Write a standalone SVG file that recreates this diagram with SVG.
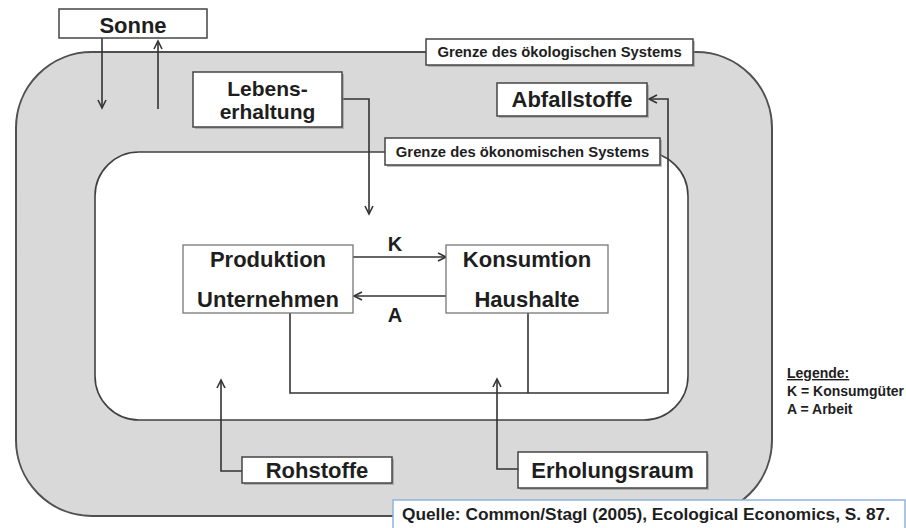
<svg xmlns="http://www.w3.org/2000/svg" width="906" height="528" viewBox="0 0 906 528">
<defs>
<marker id="arr" markerUnits="userSpaceOnUse" markerWidth="12" markerHeight="12" refX="8" refY="4" orient="auto" overflow="visible">
<path d="M0,0 L8,4 L0,8" fill="none" stroke="#333" stroke-width="1.6"/>
</marker>
</defs>
<style>
text{font-family:"Liberation Sans",Arial,sans-serif;font-weight:bold;fill:#1e1e1e}
.lbl{font-size:22px;text-anchor:middle}
.lbl2{font-size:21px;text-anchor:middle}
.sys{font-size:14.8px;text-anchor:middle}
.box{fill:#fff;stroke:#444;stroke-width:1.5}
.pbox{fill:#fff;stroke:#777;stroke-width:1.3}
.shd{fill:#8a8a8a;opacity:0.55}
.con{fill:none;stroke:#333;stroke-width:1.6}
.arw{fill:none;stroke:#333;stroke-width:1.6;marker-end:url(#arr)}
.leg{font-size:14px}
</style>
<rect width="906" height="528" fill="#fff"/>
<g id="oekologisches-system">
<rect x="16" y="52" width="756" height="464" rx="76" ry="76" fill="#d9d9d9" stroke="#505050" stroke-width="2"/>
</g>
<g id="oekonomisches-system">
<rect x="95" y="152" width="593" height="268" rx="44" ry="44" fill="#fff" stroke="#404040" stroke-width="1.6"/>
</g>
<g id="connectors">
<path class="arw" d="M102,38 L102,108"/>
<path class="arw" d="M158,109 L158,41"/>
<path class="arw" d="M342,99 L369,99 L369,214"/>
<path class="arw" d="M290,313 L290,393 L668,393 L668,99 L649,99"/>
<path class="con" d="M528,313 L528,393"/>
<path class="arw" d="M353,257 L446,257"/>
<path class="arw" d="M446,296 L354,296"/>
<path class="arw" d="M242,471 L221,471 L221,380"/>
<path class="arw" d="M518,469 L497,469 L497,379"/>
</g>
<g id="label-oekologisch">
<rect class="shd" x="428" y="41" width="267" height="26"/>
<rect class="box" x="426" y="39" width="267" height="26"/>
<text class="sys" x="559.5" y="57">Grenze des ökologischen Systems</text>
</g>
<g id="label-oekonomisch">
<rect class="shd" x="387" y="140" width="275" height="27"/>
<rect class="box" x="385" y="138" width="275" height="27"/>
<text class="sys" x="522.5" y="157">Grenze des ökonomischen Systems</text>
</g>
<g id="sonne">
<rect class="box" x="59" y="9" width="148" height="29"/>
<text class="lbl" x="133" y="33">Sonne</text>
</g>
<g id="lebenserhaltung">
<rect class="shd" x="195" y="74" width="149" height="55"/>
<rect class="box" x="193" y="72" width="149" height="55"/>
<text class="lbl2" x="267.5" y="96">Lebens-</text>
<text class="lbl2" x="267.5" y="119">erhaltung</text>
</g>
<g id="abfallstoffe">
<rect class="shd" x="499" y="85" width="150" height="33"/>
<rect class="box" x="497" y="83" width="150" height="33"/>
<text class="lbl" x="572" y="107">Abfallstoffe</text>
</g>
<g id="produktion">
<rect class="pbox" x="183" y="245" width="170" height="68"/>
<text class="lbl" x="268" y="267">Produktion</text>
<text class="lbl" x="268" y="307">Unternehmen</text>
</g>
<g id="konsumtion">
<rect class="pbox" x="446" y="245" width="162" height="68"/>
<text class="lbl" x="527" y="267">Konsumtion</text>
<text class="lbl" x="527" y="307">Haushalte</text>
</g>
<g id="flow-labels">
<text x="395" y="251" font-size="20" text-anchor="middle">K</text>
<text x="395" y="322" font-size="20" text-anchor="middle">A</text>
</g>
<g id="rohstoffe">
<rect class="shd" x="244" y="459" width="150" height="26"/>
<rect class="box" x="242" y="457" width="150" height="26"/>
<text class="lbl" x="317" y="478">Rohstoffe</text>
</g>
<g id="erholungsraum">
<rect class="shd" x="520" y="454" width="189" height="36"/>
<rect class="box" x="518" y="452" width="189" height="36"/>
<text class="lbl" x="612.5" y="478">Erholungsraum</text>
</g>
<g id="legende">
<text class="leg" x="787" y="378" text-decoration="underline">Legende:</text>
<text class="leg" x="787" y="396">K = Konsumgüter</text>
<text class="leg" x="787" y="414">A = Arbeit</text>
</g>
<g id="quelle">
<rect x="393" y="500" width="512" height="30" fill="#fff" stroke="#8fb3e0" stroke-width="1.5"/>
<text x="402" y="520" font-size="17" textLength="488" lengthAdjust="spacingAndGlyphs">Quelle: Common/Stagl (2005), Ecological Economics, S. 87.</text>
</g>
</svg>
